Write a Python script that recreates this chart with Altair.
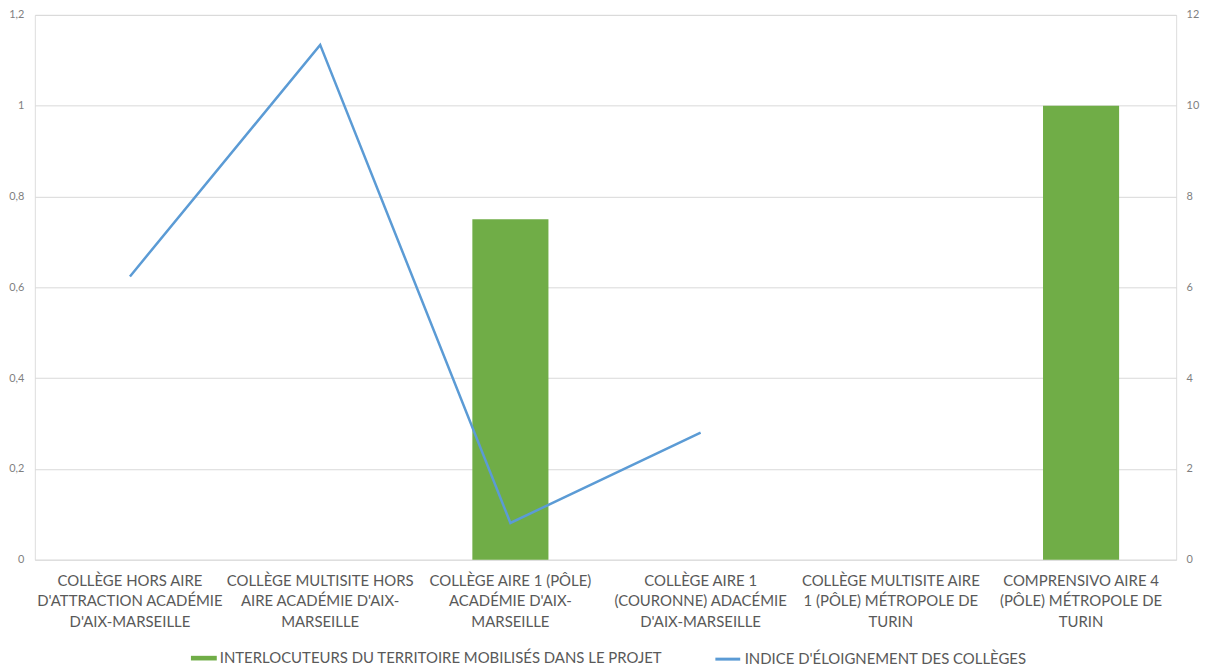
import altair as alt
import pandas as pd

categories = [
    "COLLÈGE HORS AIRE|D'ATTRACTION ACADÉMIE|D'AIX-MARSEILLE",
    "COLLÈGE MULTISITE HORS|AIRE  ACADÉMIE D'AIX-|MARSEILLE",
    "COLLÈGE AIRE 1 (PÔLE)|ACADÉMIE D'AIX-|MARSEILLE",
    "COLLÈGE AIRE 1|(COURONNE) ADACÉMIE|D'AIX-MARSEILLE",
    "COLLÈGE MULTISITE AIRE|1 (PÔLE) MÉTROPOLE DE|TURIN",
    "COMPRENSIVO AIRE 4|(PÔLE)  MÉTROPOLE DE|TURIN",
]
bar_values = [0, 0, 0.75, 0, 0, 1.0]
line_values = [6.24, 11.34, 0.81, 2.80, None, None]
bar_series = "INTERLOCUTEURS DU TERRITOIRE MOBILISÉS DANS LE PROJET"
line_series = "INDICE D'ÉLOIGNEMENT DES COLLÈGES"
left_ticks = [0, 0.2, 0.4, 0.6, 0.8, 1.0, 1.2]
right_ticks = [0, 2, 4, 6, 8, 10, 12]

df_bar = pd.DataFrame({"cat": categories, "val": bar_values, "series": bar_series})
df_line = pd.DataFrame({"cat": categories, "val": line_values, "series": line_series}).dropna()

FONT = "Lato"
LABEL_COLOR = "#595959"
TICK_COLOR = "#7f7f7f"

x_enc = alt.X(
    "cat:N",
    sort=categories,
    scale=alt.Scale(domain=categories, paddingInner=0.6, paddingOuter=0.3),
    axis=alt.Axis(
        title=None,
        labelAngle=0,
        labelExpr="split(datum.label, '|')",
        labelFontSize=15,
        labelColor=LABEL_COLOR,
        labelLineHeight=20.5,
        labelPadding=14,
        ticks=False,
        domain=False,
        labelFont=FONT,
        labelLimit=0,
    ),
)

bars = alt.Chart(df_bar).mark_bar().encode(
    x=x_enc,
    y=alt.Y(
        "val:Q",
        scale=alt.Scale(domain=[0, 1.2], nice=False),
        axis=alt.Axis(
            title=None,
            values=left_ticks,
            labelExpr="replace(format(datum.value, '~g'), '.', ',')",
            orient="left",
            grid=True,
            gridColor="#d9d9d9",
            ticks=False,
            domain=False,
            labelPadding=11,
            labelFontSize=11,
            labelColor=TICK_COLOR,
            labelFont=FONT,
        ),
    ),
    color=alt.Color(
        "series:N",
        scale=alt.Scale(domain=[bar_series], range=["#70ad47"]),
        legend=alt.Legend(
            title=None,
            orient="none",
            legendX=157,
            legendY=634,
            symbolType="M-1,-0.18L1,-0.18L1,0.18L-1,0.18Z",
            symbolSize=676,
            symbolStrokeWidth=0,
            labelFontSize=15,
            labelColor=LABEL_COLOR,
            labelFont=FONT,
            labelLimit=0,
            labelOffset=3,
        ),
    ),
)

line = alt.Chart(df_line).mark_line(strokeWidth=2.5).encode(
    x=alt.X("cat:N", sort=categories),
    y=alt.Y(
        "val:Q",
        scale=alt.Scale(domain=[0, 12], nice=False),
        axis=alt.Axis(
            title=None,
            values=right_ticks,
            orient="right",
            grid=False,
            ticks=False,
            domain=False,
            labelPadding=10,
            labelFontSize=11,
            labelColor=TICK_COLOR,
            labelFont=FONT,
        ),
    ),
    stroke=alt.Stroke(
        "series:N",
        scale=alt.Scale(domain=[line_series], range=["#5b9bd5"]),
        legend=alt.Legend(
            title=None,
            orient="none",
            legendX=683,
            legendY=634,
            symbolType="stroke",
            symbolSize=625,
            symbolStrokeWidth=3,
            labelFontSize=15,
            labelColor=LABEL_COLOR,
            labelFont=FONT,
            labelLimit=0,
            labelOffset=3,
        ),
    ),
)

chart = (
    alt.layer(bars, line)
    .resolve_scale(y="independent", color="independent", stroke="independent")
    .properties(
        width=1148,
        height=548,
        autosize=alt.AutoSizeParams(type="none"),
        padding={"left": 27, "top": 5, "right": 30, "bottom": 112},
    )
    .configure_view(stroke=None)
    .configure(font=FONT)
)

chart.save("out.html", embed_options={"renderer": "svg", "actions": False})
